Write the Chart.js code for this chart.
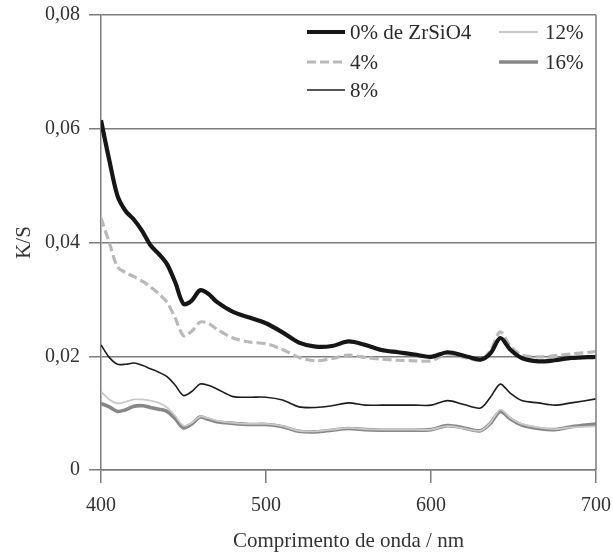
<!DOCTYPE html>
<html>
<head>
<meta charset="utf-8">
<script src="https://cdn.jsdelivr.net/npm/chart.js@4"></script>
<style>
  html, body { margin: 0; padding: 0; background: #ffffff; }
  canvas { display: block; }
</style>
</head>
<body>
<canvas id="c" width="613" height="554"></canvas>
<script>
// ---- data ----
const wavelengths = [400,405,410,415,420,425,430,435,440,445,450,455,460,465,470,480,490,500,510,520,530,540,550,560,570,580,590,600,610,620,630,636,642,648,655,665,675,685,700];

const s0 = [0.0615,0.0545,0.0482,0.0455,0.0440,0.0420,0.0395,0.0380,0.0362,0.0330,0.0292,0.0298,0.0316,0.0310,0.0296,0.0278,0.0268,0.0258,0.0242,0.0224,0.0217,0.0218,0.0226,0.0220,0.0211,0.0207,0.0203,0.0199,0.0207,0.0201,0.0194,0.0205,0.0232,0.0212,0.0197,0.0191,0.0193,0.0197,0.0199];
const s4 = [0.0443,0.0400,0.0357,0.0347,0.0340,0.0332,0.0322,0.0310,0.0295,0.0267,0.0236,0.0244,0.0260,0.0258,0.0248,0.0232,0.0225,0.0222,0.0212,0.0198,0.0192,0.0196,0.0202,0.0198,0.0195,0.0193,0.0192,0.0192,0.0204,0.0198,0.0193,0.0210,0.0243,0.0218,0.0202,0.0199,0.0201,0.0204,0.0208];
const s8 = [0.0220,0.0198,0.0186,0.0186,0.0188,0.0184,0.0178,0.0172,0.0164,0.0149,0.0131,0.0138,0.0151,0.0149,0.0143,0.0129,0.0128,0.0128,0.0123,0.0111,0.0110,0.0113,0.0118,0.0114,0.0114,0.0114,0.0114,0.0114,0.0122,0.0115,0.0109,0.0128,0.0151,0.0135,0.0122,0.0118,0.0114,0.0118,0.0125];
const s12 = [0.0138,0.0124,0.0117,0.0120,0.0124,0.0124,0.0122,0.0118,0.0110,0.0095,0.0078,0.0083,0.0094,0.0091,0.0087,0.0083,0.0081,0.0081,0.0077,0.0069,0.0068,0.0071,0.0074,0.0072,0.0071,0.0071,0.0071,0.0071,0.0077,0.0073,0.0069,0.0083,0.0106,0.0092,0.0081,0.0075,0.0072,0.0075,0.0077];
const s16 = [0.0117,0.0111,0.0103,0.0106,0.0112,0.0113,0.0110,0.0107,0.0103,0.0090,0.0074,0.0081,0.0093,0.0089,0.0085,0.0082,0.0080,0.0080,0.0076,0.0068,0.0067,0.0070,0.0073,0.0071,0.0070,0.0070,0.0070,0.0071,0.0078,0.0074,0.0069,0.0082,0.0103,0.0090,0.0079,0.0073,0.0071,0.0076,0.0081];

const seriesLabels = ['0% de ZrSiO4', '4%', '8%', '12%', '16%'];
const yTickLabels = ['0', '0,02', '0,04', '0,06', '0,08'];
const xTickLabels = ['400', '500', '600', '700'];

// ---- chart ----
function pts(vals) { return wavelengths.map((w, i) => ({ x: w, y: vals[i] })); }

const styles = [
  { color: '#161616', width: 4.2, dash: [] },
  { color: '#b9b9b9', width: 3.2, dash: [9, 4] },
  { color: '#1c1c1c', width: 1.6, dash: [] },
  { color: '#c9c9c9', width: 1.8, dash: [] },
  { color: '#878787', width: 3.6, dash: [] }
];
const allSeries = [s0, s4, s8, s12, s16];

const datasets = allSeries.map((s, i) => ({
  label: seriesLabels[i],
  data: pts(s),
  borderColor: styles[i].color,
  borderWidth: styles[i].width,
  borderDash: styles[i].dash,
  pointRadius: 0,
  fill: false,
  tension: 0.3
}));

const GRID = '#7d7d7d';

const frameAndLegend = {
  id: 'frameAndLegend',
  afterDraw(chart) {
    const ctx = chart.ctx;
    const a = chart.chartArea;
    ctx.save();
    // right frame line
    ctx.strokeStyle = GRID;
    ctx.lineWidth = 1.5;
    ctx.beginPath();
    ctx.moveTo(a.right, a.top);
    ctx.lineTo(a.right, a.bottom);
    ctx.stroke();
    // legend (two columns)
    const colLine = [[307, 345], [499, 538]];
    const colText = [350, 545];
    const rowY = [32, 62, 90];
    ctx.font = '21px "Liberation Serif", serif';
    ctx.textBaseline = 'middle';
    ctx.textAlign = 'left';
    chart.data.datasets.forEach((ds, i) => {
      const col = i < 3 ? 0 : 1;
      const row = i < 3 ? i : i - 3;
      const y = rowY[row];
      ctx.strokeStyle = ds.borderColor;
      ctx.lineWidth = ds.borderWidth;
      ctx.setLineDash(ds.borderDash || []);
      ctx.beginPath();
      ctx.moveTo(colLine[col][0], y);
      ctx.lineTo(colLine[col][1], y);
      ctx.stroke();
      ctx.setLineDash([]);
      ctx.fillStyle = '#2a2a2a';
      ctx.fillText(ds.label, colText[col], y + 1);
    });
    ctx.restore();
  }
};

Chart.defaults.font.family = '"Liberation Serif", serif';
Chart.defaults.font.size = 20;
Chart.defaults.color = '#333333';

new Chart(document.getElementById('c'), {
  type: 'line',
  data: { datasets },
  options: {
    responsive: false,
    animation: false,
    devicePixelRatio: 1,
    layout: { padding: { top: 15, right: 17, left: 0, bottom: 0 } },
    plugins: { legend: { display: false }, tooltip: { enabled: false } },
    scales: {
      x: {
        type: 'linear',
        min: 400, max: 700,
        ticks: {
          stepSize: 100,
          padding: 11,
          color: '#333333',
          callback: (v) => { const i = xTickLabels.indexOf(String(v)); return i >= 0 ? xTickLabels[i] : ''; }
        },
        grid: { drawOnChartArea: false, drawTicks: true, tickLength: 13, color: GRID, lineWidth: 1.5 },
        border: { display: true, color: GRID, width: 1.5 },
        title: { display: true, text: 'Comprimento de onda / nm', color: '#333333', font: { size: 21 }, padding: { top: 2, bottom: 0 } },
        afterFit: (scale) => { scale.height = 84; scale.paddingLeft = 0; scale.paddingRight = 0; }
      },
      y: {
        min: 0, max: 0.08,
        ticks: {
          stepSize: 0.02,
          padding: 9,
          color: '#333333',
          callback: (v, idx) => yTickLabels[idx]
        },
        grid: { drawOnChartArea: true, drawTicks: true, tickLength: 12, color: GRID, lineWidth: 1.5 },
        border: { display: true, color: GRID, width: 1.5 },
        title: { display: true, text: 'K/S', color: '#333333', font: { size: 21 }, padding: { top: 12, bottom: 0 } },
        afterFit: (scale) => { scale.width = 101; scale.paddingTop = 0; scale.paddingBottom = 0; }
      }
    }
  },
  plugins: [frameAndLegend]
});
</script>
</body>
</html>
